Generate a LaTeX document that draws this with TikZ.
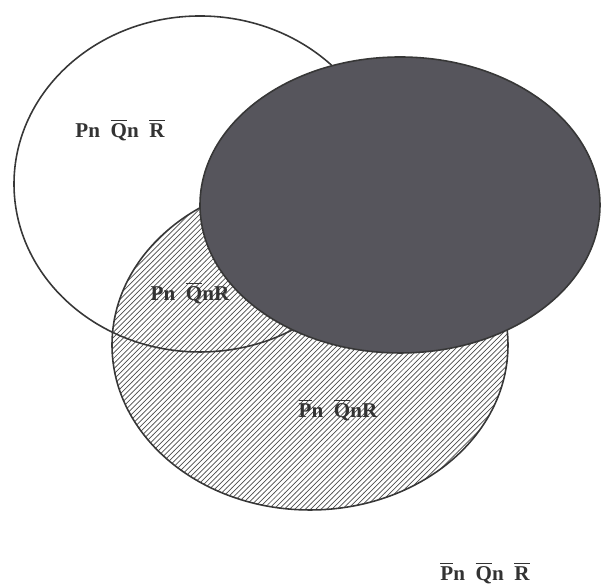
\documentclass[tikz,border=0pt]{standalone}
\usepackage{fontspec}
\setmainfont{Liberation Serif}
\usepackage{xcolor}
\usetikzlibrary{positioning,shapes.geometric,patterns}
\definecolor{setdark}{RGB}{86,85,92}
\definecolor{setline}{RGB}{55,55,55}

\begin{document}
\begin{tikzpicture}[
  set/.style={ellipse,draw=setline,line width=0.9pt,inner sep=0pt},
  lab/.style={font=\bfseries\large,text=black!80}
]
\useasboundingbox (0,0) rectangle (12.08,11.76);
\node[set,minimum width=7.92cm,minimum height=6.6cm,pattern=north east lines,pattern color=black!70] (R) at (6.2,4.86) {};
\node[set,minimum width=7.44cm,minimum height=6.72cm] (P) at (4.0,8.08) {};
\node[set,minimum width=8.0cm,minimum height=5.92cm,fill=setdark] (Q) at (8.0,7.66) {};

\node[lab] (pqr1) at (2.4,9.16) {Pn\ \ $\overline{\mbox{Q}}$n\ \ $\overline{\mbox{R}}$};
\node[lab] (pqr2) at (3.8,5.9) {Pn\ \ $\overline{\mbox{Q}}$nR};
\node[lab] (pqr3) at (6.76,3.56) {$\overline{\mbox{P}}$n\ \ $\overline{\mbox{Q}}$nR};
\node[lab] (pqr4) at (9.7,0.3) {$\overline{\mbox{P}}$n\ \ $\overline{\mbox{Q}}$n\ \ $\overline{\mbox{R}}$};
\end{tikzpicture}
\end{document}
